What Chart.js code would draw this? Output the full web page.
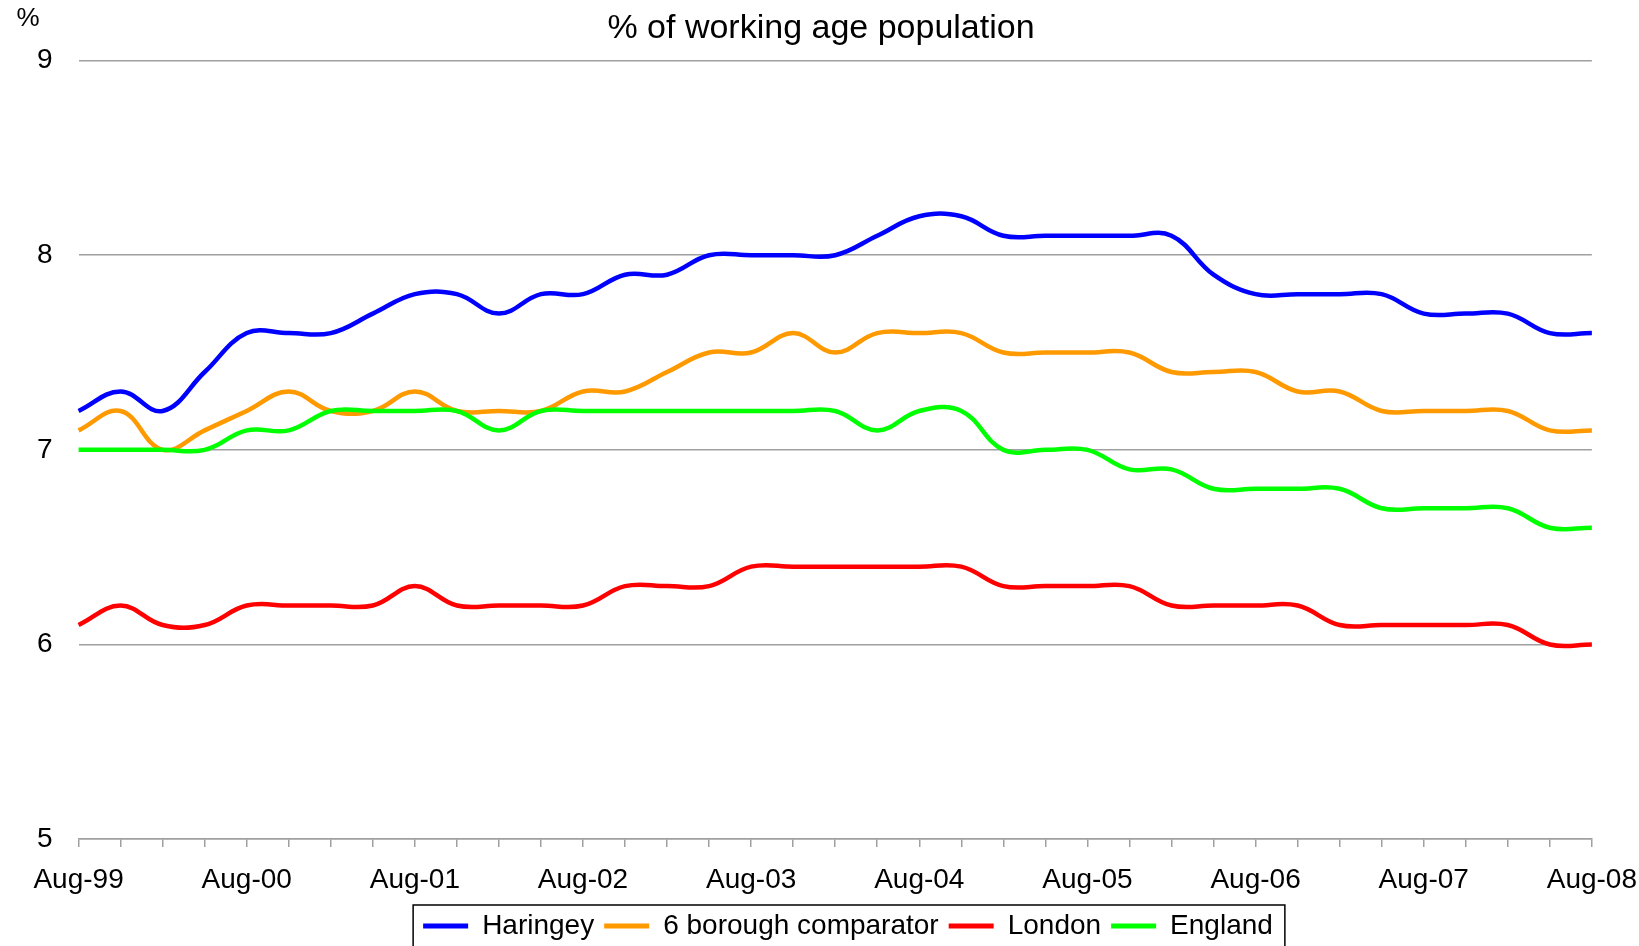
<!DOCTYPE html>
<html>
<head>
<meta charset="utf-8">
<script src="https://cdn.jsdelivr.net/npm/chart.js@4.4.1/dist/chart.umd.min.js"></script>
<style>
  html, body { margin: 0; padding: 0; background: #fff; }
  #wrap { width: 1639px; height: 946px; position: relative; }
</style>
</head>
<body>
<div id="wrap"><canvas id="mychart"></canvas></div>
<script>
// quarterly points, Aug-99 .. Aug-08
var quarters = ['Aug-99','Nov-99','Feb-00','May-00','Aug-00','Nov-00','Feb-01','May-01',
                'Aug-01','Nov-01','Feb-02','May-02','Aug-02','Nov-02','Feb-03','May-03',
                'Aug-03','Nov-03','Feb-04','May-04','Aug-04','Nov-04','Feb-05','May-05',
                'Aug-05','Nov-05','Feb-06','May-06','Aug-06','Nov-06','Feb-07','May-07',
                'Aug-07','Nov-07','Feb-08','May-08','Aug-08'];

var haringey = [7.2,7.3,7.2,7.4,7.6,7.6,7.6,7.7,7.8,7.8,7.7,7.8,7.8,7.9,7.9,8.0,8.0,8.0,8.0,
                8.1,8.2,8.2,8.1,8.1,8.1,8.1,8.1,7.9,7.8,7.8,7.8,7.8,7.7,7.7,7.7,7.6,7.6];
var comparator = [7.1,7.2,7.0,7.1,7.2,7.3,7.2,7.2,7.3,7.2,7.2,7.2,7.3,7.3,7.4,7.5,7.5,7.6,7.5,
                  7.6,7.6,7.6,7.5,7.5,7.5,7.5,7.4,7.4,7.4,7.3,7.3,7.2,7.2,7.2,7.2,7.1,7.1];
var london = [6.1,6.2,6.1,6.1,6.2,6.2,6.2,6.2,6.3,6.2,6.2,6.2,6.2,6.3,6.3,6.3,6.4,6.4,6.4,
              6.4,6.4,6.4,6.3,6.3,6.3,6.3,6.2,6.2,6.2,6.2,6.1,6.1,6.1,6.1,6.1,6.0,6.0];
var england = [7.0,7.0,7.0,7.0,7.1,7.1,7.2,7.2,7.2,7.2,7.1,7.2,7.2,7.2,7.2,7.2,7.2,7.2,7.2,
               7.1,7.2,7.2,7.0,7.0,7.0,6.9,6.9,6.8,6.8,6.8,6.8,6.7,6.7,6.7,6.7,6.6,6.6];

var seriesNames = ['Haringey', '6 borough comparator', 'London', 'England'];
var yTicks = [5, 6, 7, 8, 9];

var FONT = '"Liberation Sans", Arial, Helvetica, sans-serif';

function line(name, values, color, order) {
    return {
        label: name,
        data: values,
        borderColor: color,
        backgroundColor: color,
        borderWidth: 4.5,
        pointRadius: 0,
        tension: 0.4,
        fill: false,
        order: order   // England drawn on top, like the original
    };
}

// legend frame, the "%" unit and some nudging of title / legend
var extras = {
    id: 'extras',
    afterLayout: function(chart) {
        var lg = chart.legend;
        var d = 848 - (lg.left + lg.right) / 2;
        lg.left += d; lg.right += d;
        lg.top = 902; lg.bottom = 946;
        var t = chart.titleBlock;
        var dt = 821 - (t.left + t.right) / 2;
        t.left += dt; t.right += dt;
    },
    afterDraw: function(chart) {
        var ctx = chart.ctx;
        var boxes = chart.legend.legendHitBoxes;
        var first = boxes[0], last = boxes[boxes.length - 1];
        var x0 = first.left - 10, x1 = last.left + last.width + 12;
        ctx.save();
        ctx.strokeStyle = '#000';
        ctx.lineWidth = 1.5;
        ctx.strokeRect(x0, 905, x1 - x0, 80);
        ctx.fillStyle = '#000';
        ctx.font = '26px ' + FONT;
        ctx.textAlign = 'center';
        ctx.textBaseline = 'middle';
        ctx.fillText('%', 28, 19);
        ctx.restore();
    }
};

var config = {
    type: 'line',
    data: {
        labels: quarters,
        datasets: [
            line(seriesNames[0], haringey, '#0000ff', 3),
            line(seriesNames[1], comparator, '#ff9900', 2),
            line(seriesNames[2], london, '#ff0000', 1),
            line(seriesNames[3], england, '#00ff00', 0)
        ]
    },
    options: {
        responsive: true,
        maintainAspectRatio: false,
        animation: false,
        layout: { padding: { left: 11, right: 46, top: 0, bottom: 0 } },
        scales: {
            x: {
                offset: false,
                border: { display: true, color: '#a0a0a0', width: 1.5 },
                grid: { drawOnChartArea: false, drawTicks: true, tickLength: 8, color: '#a0a0a0', lineWidth: 1.5 },
                ticks: {
                    autoSkip: false,
                    maxRotation: 0,
                    padding: 2,
                    color: '#000',
                    // tall line box pushes the labels down without widening side padding
                    font: { family: FONT, size: 28, lineHeight: 2.21 },
                    callback: function(value, index) {
                        return index % 4 === 0 ? this.getLabelForValue(value) : '';
                    }
                }
            },
            y: {
                min: yTicks[0],
                max: yTicks[yTicks.length - 1],
                border: { display: false },
                grid: { drawTicks: false, color: '#a0a0a0', lineWidth: 1.5 },
                afterBuildTicks: function(scale) {
                    scale.ticks = yTicks.map(function(v) { return { value: v }; });
                },
                ticks: {
                    padding: 26,
                    color: '#000',
                    font: { family: FONT, size: 28 }
                }
            }
        },
        plugins: {
            title: {
                display: true,
                text: '% of working age population',
                color: '#000',
                font: { family: FONT, size: 34, weight: 'normal' },
                padding: { top: 8.6, bottom: 11.2 }
            },
            legend: {
                position: 'bottom',
                maxHeight: 33,
                labels: {
                    boxWidth: 45,
                    boxHeight: 5,
                    padding: 10,
                    color: '#000',
                    font: { family: FONT, size: 28 },
                    sort: function(a, b) { return a.datasetIndex - b.datasetIndex; },
                    generateLabels: function(chart) {
                        var items = Chart.defaults.plugins.legend.labels.generateLabels(chart);
                        items.forEach(function(it) { it.lineWidth = 0; });
                        return items;
                    }
                }
            },
            tooltip: { enabled: false }
        }
    },
    plugins: [extras]
};

var ctx = document.getElementById('mychart').getContext('2d');
window.myLine = new Chart(ctx, config);
</script>
</body>
</html>
